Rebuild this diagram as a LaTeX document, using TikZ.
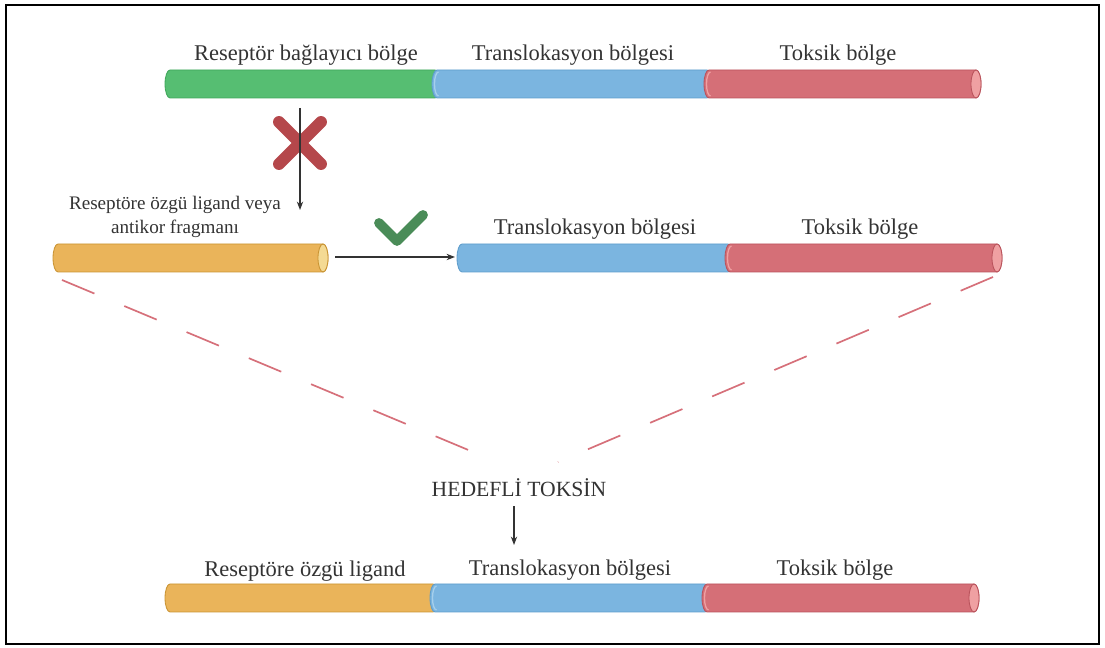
\documentclass[tikz,border=0pt]{standalone}
\usepackage{fontspec}
\setmainfont{Liberation Serif}
\usepackage{xcolor}
\usepackage{tikz}
\usetikzlibrary{calc,arrows.meta}
\definecolor{ink}{HTML}{333333}
\definecolor{grn}{HTML}{56BE72}
\definecolor{grnedge}{HTML}{3FA65A}
\definecolor{grncap}{HTML}{8AD6A0}
\definecolor{blu}{HTML}{7BB5E0}
\definecolor{bluedge}{HTML}{5D9CCB}
\definecolor{blucap}{HTML}{A6CFEC}
\definecolor{red}{HTML}{D56F77}
\definecolor{rededge}{HTML}{B9525B}
\definecolor{redcap}{HTML}{EFA0A2}
\definecolor{org}{HTML}{EAB45A}
\definecolor{orgedge}{HTML}{C99332}
\definecolor{orgcap}{HTML}{F4DA94}
\definecolor{cross}{HTML}{B5474B}
\definecolor{tick}{HTML}{4A8C58}
\definecolor{dash}{HTML}{D6707A}
\tikzset{
  frame/.style={draw=black, line width=1.4pt},
  arr/.style={draw=ink, line width=0.8pt, -{Stealth[length=6pt,width=4.5pt]}},
  guide/.style={draw=dash, line width=1.2pt, dash pattern=on 25pt off 23pt},
  crossarm/.style={draw=cross, line width=8.5pt, line cap=round},
  tickarm/.style={draw=tick, line width=7pt, line cap=round, line join=round},
  lab/.style={text=ink, font=\fontsize{16}{19}\selectfont},
  labs/.style={text=ink, font=\fontsize{13.6}{17}\selectfont, align=center},
  labh/.style={text=ink, font=\fontsize{15.4}{18}\selectfont}
}
% tube segment: x1, x2, mid y, colour prefix
\newcommand{\tube}[4]{%
  \filldraw[fill=#4, draw=#4edge, line width=0.6pt]
    (#1,#3+14) -- (#2,#3+14)
    arc[start angle=90, end angle=-90, x radius=5, y radius=14]
    -- (#1,#3-14)
    arc[start angle=-90, end angle=-270, x radius=5, y radius=14] -- cycle;
}
% light rim where one segment joins the next
\newcommand{\seam}[3]{%
  \draw[#3cap, line width=0.9pt]
    (#1+1.5,#2+12) arc[start angle=90, end angle=270, x radius=4, y radius=12];
}
% open end of the last segment
\newcommand{\tubecap}[3]{%
  \filldraw[fill=#3cap, draw=#3edge, line width=0.6pt]
    (#1,#2) ellipse[x radius=5, y radius=14];
}

\begin{document}
\begin{tikzpicture}[x=0.025cm, y=0.025cm]
  \useasboundingbox (0,0) rectangle (1105,648);
  \draw[frame] (6,4) rectangle (1099,643);

  % row 1: natural toxin
  \tube{170}{435}{564}{grn}
  \tube{437}{707}{564}{blu} \seam{437}{564}{blu}
  \tube{709}{976}{564}{red} \seam{709}{564}{red}
  \tubecap{976}{564}{red}
  \node[lab] (rec1) at (306,593) {Reseptör bağlayıcı bölge};
  \node[lab] (tr1) at (573,593) {Translokasyon bölgesi};
  \node[lab] (tox1) at (838,593) {Toksik bölge};

  % row 2: ligand and remaining parts
  \tube{58}{323}{390}{org}
  \tubecap{323}{390}{org}
  \tube{462}{728}{390}{blu}
  \tube{730}{997}{390}{red} \seam{730}{390}{red}
  \tubecap{997}{390}{red}
  \node[labs] (lig2) at (175,431) {Reseptöre özgü ligand veya\\antikor fragmanı};
  \node[lab] (tr2) at (595,419) {Translokasyon bölgesi};
  \node[lab] (tox2) at (860,419) {Toksik bölge};

  % exchange of the binding part
  \coordinate (cut) at (300,540);
  \coordinate (cutend) at (300,438);
  \draw[crossarm] (279,526) -- (321,484);
  \draw[crossarm] (279,484) -- (321,526);
  \draw[arr] (cut) -- (cutend);
  \draw[tickarm] (379,425) -- (397,407) -- (423,433);
  \coordinate (join) at (335,391);
  \coordinate (joinend) at (455,391);
  \draw[arr] (join) -- (joinend);

  % fusion
  \coordinate (ligL) at (62,368);
  \coordinate (toxR) at (993,371);
  \node[labh] (target) at (519,160) {HEDEFLİ TOKSİN};
  \draw[guide] (ligL) -- (497,186);
  \draw[guide] (toxR) -- (558,186);
  \coordinate (down) at (514,103);
  \draw[arr] (target.south -| down) ++(0,-4) -- (down);

  % row 3: targeted toxin
  \tube{170}{433}{50}{org}
  \tube{435}{705}{50}{blu} \seam{435}{50}{blu}
  \tube{707}{974}{50}{red} \seam{707}{50}{red}
  \tubecap{974}{50}{red}
  \node[lab] (lig3) at (305,77) {Reseptöre özgü ligand};
  \node[lab] (tr3) at (570,78) {Translokasyon bölgesi};
  \node[lab] (tox3) at (835,78) {Toksik bölge};
\end{tikzpicture}
\end{document}
